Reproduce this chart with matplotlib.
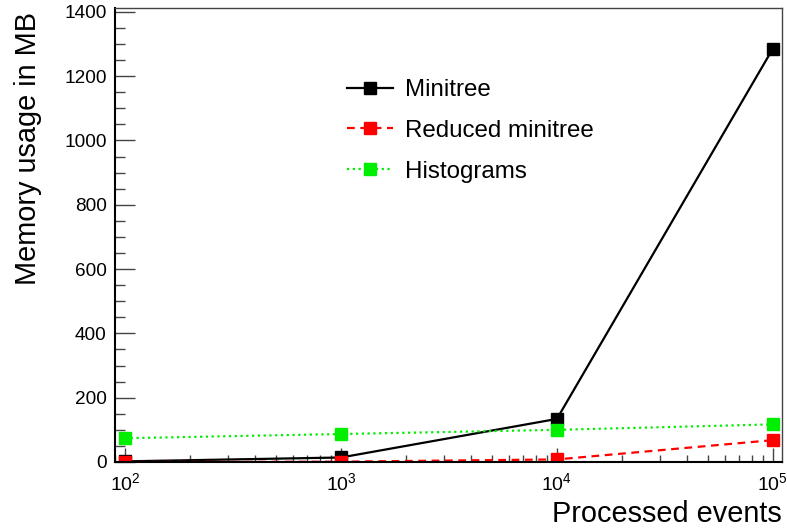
import matplotlib
matplotlib.use("Agg")
import matplotlib.pyplot as plt
from matplotlib.ticker import MultipleLocator, LogLocator, LogFormatterSciNotation, NullFormatter

plt.rcParams['font.family'] = ['Liberation Sans', 'DejaVu Sans']
plt.rcParams['mathtext.fontset'] = 'custom'
plt.rcParams['mathtext.rm'] = 'Liberation Sans'
plt.rcParams['mathtext.it'] = 'Liberation Sans'
plt.rcParams['mathtext.bf'] = 'Liberation Sans'

events = [1e2, 1e3, 1e4, 1e5]
minitree = [2, 14, 134, 1286]
reduced_minitree = [0, 1, 8, 68]
histograms = [74, 87, 100, 117]
labels = ["Minitree", "Reduced minitree", "Histograms"]

W, H = 787, 532
fig = plt.figure(figsize=(W / 100, H / 100), dpi=100)
ax = fig.add_axes([115 / W, 1 - 462 / H, (782 - 115) / W, (462 - 8) / H])

ax.plot(events, minitree, color='black', lw=1.6, ls='-', marker='s', ms=8.5,
        mec='black', mfc='black', label=labels[0])
ax.plot(events, reduced_minitree, color='#ff0000', lw=1.6, ls=(0, (3.5, 2.5)), marker='s', ms=8.5,
        mec='#ff0000', mfc='#ff0000', label=labels[1])
ax.plot(events, histograms, color='#00ee00', lw=1.6, ls=(0, (1, 1.6)), marker='s', ms=8.5,
        mec='#00ee00', mfc='#00ee00', label=labels[2])

ax.set_xscale('log')
ax.set_xlim(10 ** 1.954, 10 ** 5.042)
ax.set_ylim(0, 1412)

ax.yaxis.set_major_locator(MultipleLocator(200))
ax.yaxis.set_minor_locator(MultipleLocator(50))
ax.xaxis.set_major_locator(LogLocator(base=10, numticks=10))
ax.xaxis.set_minor_locator(LogLocator(base=10, subs=range(2, 10), numticks=20))
ax.xaxis.set_major_formatter(LogFormatterSciNotation())
ax.xaxis.set_minor_formatter(NullFormatter())

ax.tick_params(axis='y', which='major', direction='in', length=14.4, width=1, color='#444444',
               labelsize=13.7, pad=6, left=True, right=False)
ax.tick_params(axis='y', which='minor', direction='in', length=7.2, width=1, color='#444444',
               left=True, right=False)
ax.tick_params(axis='x', which='major', direction='in', length=9.8, width=1, color='#444444',
               labelsize=14.0, pad=7.5, bottom=True, top=False)
ax.tick_params(axis='x', which='minor', direction='in', length=4.9, width=1, color='#444444',
               bottom=True, top=False)

for s in ['left', 'bottom']:
    ax.spines[s].set_linewidth(1.5)
    ax.spines[s].set_color('black')
for s in ['top', 'right']:
    ax.spines[s].set_linewidth(1.0)
    ax.spines[s].set_color('#444444')

ax.set_xlabel("Processed events", fontsize=20.8, loc='right')
ax.xaxis.set_label_coords(1.0, (462 - 500) / 454)
ax.set_ylabel("Memory usage in MB", fontsize=20.8, loc='top')
ax.yaxis.set_label_coords((42 - 115) / 667, 1 - 4 / 454)

ax.legend(loc='upper left', bbox_to_anchor=(347 / W, 1 - 79 / H), bbox_transform=fig.transFigure,
          frameon=False, fontsize=17.4, handlelength=1.9, handletextpad=0.5, borderpad=0,
          borderaxespad=0, labelspacing=0.78, markerscale=1.0)

fig.savefig("out.png", dpi=100)
